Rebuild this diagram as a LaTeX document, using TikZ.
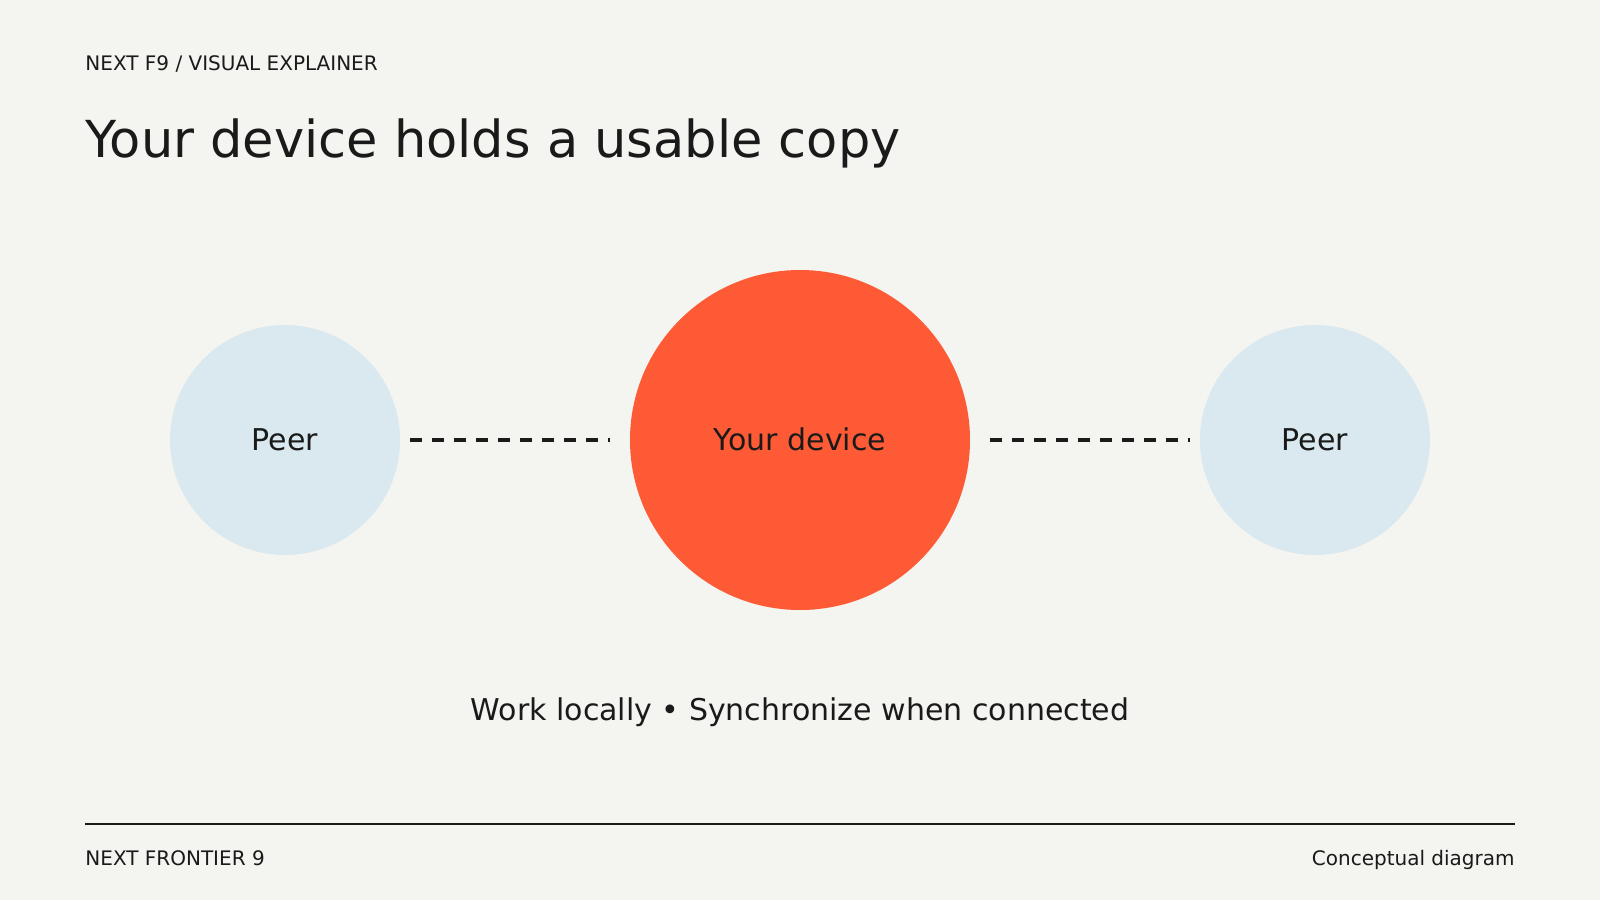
\documentclass[tikz,border=0pt]{standalone}
\usepackage{fontspec}
\setmainfont{DejaVu Sans}
\definecolor{paper}{HTML}{F4F5F0}
\definecolor{ink}{HTML}{1A1A1A}
\definecolor{devred}{HTML}{FF5A36}
\definecolor{peerblue}{HTML}{D9E9EF}
\tikzset{
  peer/.style={circle,fill=peerblue,draw=none,inner sep=0pt,outer sep=0pt,minimum size=115pt,
    text height=10.9pt,text depth=0pt,text=ink,font=\fontsize{15pt}{18pt}\selectfont},
  device/.style={peer,fill=devred,minimum size=170pt},
  link/.style={draw=ink,line width=2.2pt,dash pattern=on 6pt off 5pt},
  small/.style={text=ink,inner sep=0pt,anchor=base west,font=\fontsize{10pt}{12pt}\selectfont}
}
\begin{document}
\begin{tikzpicture}[x=0.5pt,y=-0.5pt]
\fill[paper] (0,0) rectangle (1600,900);
\useasboundingbox (0,0) rectangle (1600,900);
\draw (85,70) node[small] (Kicker) {NEXT F9 / VISUAL EXPLAINER};
\draw (85,157) node[small,font=\fontsize{25.5pt}{30pt}\selectfont] (Title) {Your device holds a usable copy};

\draw (285,440) node[peer] (P1) {Peer};
\draw (800,440) node[device] (Dev) {Your device};
\draw (1315,440) node[peer] (P2) {Peer};
\draw[link,shorten <=5pt,shorten >=10pt] (P1) -- (Dev);
\draw[link,shorten <=10pt,shorten >=5pt] (Dev) -- (P2);

\draw (800,720) node[small,anchor=base,font=\fontsize{15pt}{18pt}\selectfont] (Sub) {Work locally • Synchronize when connected};

\coordinate (RuleL) at (85,824);
\coordinate (RuleR) at (1515,824);
\draw[ink,line width=1pt] (RuleL) -- (RuleR);
\draw (85,865) node[small] (FootL) {NEXT FRONTIER 9};
\draw (1515,865) node[small,anchor=base east] (FootR) {Conceptual diagram};
\end{tikzpicture}
\end{document}
